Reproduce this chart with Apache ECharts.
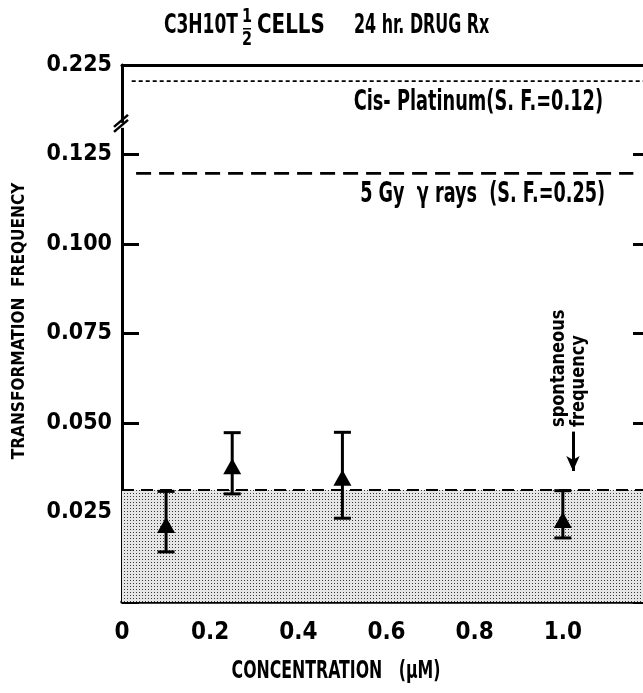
<!DOCTYPE html>
<html>
<head>
<meta charset="utf-8">
<script src="https://cdn.jsdelivr.net/npm/echarts@6/dist/echarts.min.js"></script>
<style>
  html, body { margin: 0; padding: 0; background: #fff; }
  #chart { width: 643px; height: 693px; }
</style>
</head>
<body>
<div id="chart"></div>
<script>
  // data
  const xTickLabels = ['0', '0.2', '0.4', '0.6', '0.8', '1.0', ''];
  const yTickLabels = ['', '0.025', '0.050', '0.075', '0.100', '0.125', '0.225'];
  const concentration = [0.1, 0.25, 0.5, 1.0];
  const frequency = [0.0215, 0.0379, 0.0347, 0.0229];
  const errLow = [0.0140, 0.0302, 0.0234, 0.0179];
  const errHigh = [0.0309, 0.0473, 0.0474, 0.0311];
  const spontaneousLevel = 0.0313;
  const gyLevel = 0.1197;      // 5 Gy gamma rays
  const cisLevel = 0.207;      // cis-platinum, above the axis break
  const gySpan = [0.032, 1.16];
  const cisSpan = [0.022, 1.2];
  const spontSpan = [0, 1.2];
  const arrowX = 1.023;
  const arrowFromTo = [0.0476, 0.0366];

  const FONT = "'DejaVu Sans Condensed', 'Liberation Sans Narrow', 'Liberation Sans', sans-serif";

  // broken axis: values above 0.125 are squeezed 4x
  function axisY (v) {
    return v <= 0.125 ? v : 0.125 + (v - 0.125) / 4;
  }

  function stipple () {
    let c = document.createElement('canvas');
    c.width = 3; c.height = 3;
    let g = c.getContext('2d');
    g.fillStyle = '#e6e6e6';
    g.fillRect(0, 0, 3, 3);
    g.fillStyle = '#3a3a3a';
    g.fillRect(1, 1, 1, 1);
    return c;
  }

  let chart = echarts.init(document.getElementById('chart'));

  let points = concentration.map((x, i) => [x, frequency[i]]);
  let bars = concentration.map((x, i) => [x, errLow[i], errHigh[i]]);

  // narrow bold text, squeezed sideways to look like the condensed typeface
  function label (text, x, y, size, sx, align, extra) {
    return Object.assign({
      type: 'text', x: x, y: y, scaleX: sx,
      style: {
        text: text, fontFamily: FONT, fontWeight: 'bold', fill: '#000',
        fontSize: size, align: align, verticalAlign: 'middle'
      }
    }, extra || {});
  }

  let opt = {
    animation: false,
    textStyle: { fontFamily: FONT },
    grid: { left: 122, right: -8, top: 65, bottom: 91, outerBoundsMode: 'none', containLabel: false },
    xAxis: [
      {
        type: 'value', min: 0, max: 1.2, interval: 0.2,
        axisLine: { onZero: false, lineStyle: { color: '#000', width: 3.5 } },
        axisTick: { inside: true, length: 17, lineStyle: { color: '#000', width: 3 } },
        splitLine: { show: false },
        axisLabel: {
          color: '#000', fontSize: 24, fontWeight: 'bold', margin: 19,
          formatter: (v, i) => xTickLabels[i] || ''
        }
      },
      {
        type: 'value', position: 'top', min: 0, max: 1.2,
        axisLine: { show: true, onZero: false, lineStyle: { color: '#000', width: 3 } },
        axisTick: { show: false }, axisLabel: { show: false }, splitLine: { show: false }
      }
    ],
    yAxis: [
      {
        type: 'value', min: 0, max: 0.15, interval: 0.025,
        axisLine: { show: true, onZero: false, lineStyle: { color: '#000', width: 3 } },
        axisTick: { show: true, inside: true, length: 17, lineStyle: { color: '#000', width: 3 } },
        splitLine: { show: false },
        axisLabel: {
          color: '#000', fontSize: 23, fontWeight: 'bold', margin: 10,
          formatter: (v, i) => yTickLabels[i] || ''
        }
      },
      {
        type: 'value', position: 'right', min: 0, max: 0.15, interval: 0.025,
        axisLine: { show: true, onZero: false, lineStyle: { color: '#000', width: 3 } },
        axisTick: { show: true, inside: true, length: 18, lineStyle: { color: '#000', width: 3 } },
        axisLabel: { show: false }, splitLine: { show: false }
      }
    ],
    series: [
      {
        // spontaneous frequency band
        type: 'line', symbol: 'none', z: 1,
        data: spontSpan.map(x => [x, spontaneousLevel]),
        lineStyle: { color: '#000', width: 2, type: [12, 7] },
        areaStyle: { color: { image: stipple(), repeat: 'repeat' }, opacity: 1 },
        markLine: {
          silent: true, symbol: ['none', 'arrow'], symbolSize: [10, 15],
          label: { show: false },
          lineStyle: { color: '#000', width: 3, type: 'solid' },
          data: [[{ coord: [arrowX, arrowFromTo[0]] }, { coord: [arrowX, arrowFromTo[1]] }]]
        }
      },
      {
        type: 'line', symbol: 'none', z: 2,
        data: gySpan.map(x => [x, axisY(gyLevel)]),
        lineStyle: { color: '#000', width: 2.8, type: [15, 8] }
      },
      {
        type: 'line', symbol: 'none', z: 2,
        data: cisSpan.map(x => [x, axisY(cisLevel)]),
        lineStyle: { color: '#000', width: 1.6, type: [4, 3] }
      },
      {
        type: 'custom', z: 3,
        data: bars,
        encode: { x: 0, y: [1, 2] },
        renderItem (params, api) {
          let x = api.value(0);
          let lo = api.coord([x, api.value(1)]);
          let hi = api.coord([x, api.value(2)]);
          let w = 8.5;
          let st = { stroke: '#000', lineWidth: 3 };
          return {
            type: 'group',
            children: [
              { type: 'line', shape: { x1: lo[0], y1: lo[1], x2: hi[0], y2: hi[1] }, style: st },
              { type: 'line', shape: { x1: lo[0] - w, y1: lo[1], x2: lo[0] + w, y2: lo[1] }, style: st },
              { type: 'line', shape: { x1: hi[0] - w, y1: hi[1], x2: hi[0] + w, y2: hi[1] }, style: st }
            ]
          };
        }
      },
      {
        type: 'scatter', z: 4,
        symbol: 'triangle', symbolSize: [18, 16],
        itemStyle: { color: '#000', opacity: 1 },
        data: points
      }
    ]
  };
  chart.setOption(opt);

  // axis break marks on the left axis
  let bp = chart.convertToPixel({ gridIndex: 0 }, [0, 0.133]);

  chart.setOption({
    graphic: [
      { type: 'rect', shape: { x: bp[0] - 3, y: bp[1] - 3, width: 6, height: 5 }, style: { fill: '#fff' }, z: 50 },
      { type: 'line', shape: { x1: bp[0] - 8, y1: bp[1] + 6, x2: bp[0] + 6, y2: bp[1] - 6 }, style: { stroke: '#000', lineWidth: 2.5 }, z: 51 },
      { type: 'line', shape: { x1: bp[0] - 8, y1: bp[1] + 1, x2: bp[0] + 6, y2: bp[1] - 11 }, style: { stroke: '#000', lineWidth: 2.5 }, z: 51 },
      // title
      label('C3H10T', 238, 26, 26, 0.73, 'right'),
      label('1', 247, 17, 20, 0.8, 'center'),
      { type: 'rect', shape: { x: 243, y: 28, width: 8, height: 1.5 }, style: { fill: '#000' } },
      label('2', 247, 40, 20, 0.8, 'center'),
      label('CELLS', 257, 26, 26, 0.85, 'left'),
      label('24 hr. DRUG Rx', 354, 26, 26, 0.68, 'left'),
      // reference line labels
      label('Cis- Platinum(S. F.=0.12)', 603, 103, 28, 0.705, 'right'),
      label('5 Gy  γ rays  (S. F.=0.25)', 605, 195, 28, 0.7, 'right'),
      // spontaneous frequency note
      label('spontaneous\nfrequency', 569, 427, 20, 0.9, 'left', { rotation: Math.PI / 2 }),
      // axis names
      label('TRANSFORMATION  FREQUENCY', 19, 321, 18, 0.95, 'center', { rotation: Math.PI / 2 }),
      label('CONCENTRATION   (µM)', 336, 672, 24, 0.73, 'center')
    ]
  });
</script>
</body>
</html>
